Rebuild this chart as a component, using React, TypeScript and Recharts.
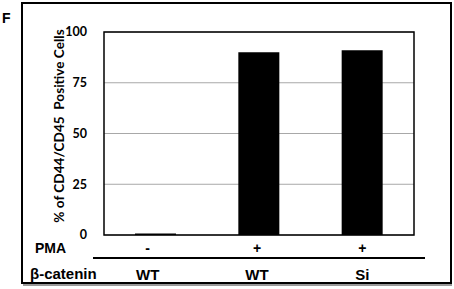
import { Bar, BarChart, CartesianGrid, XAxis, YAxis } from 'recharts';

const groups = ['g1', 'g2', 'g3'];
const pmaLabels = ['-', '+', '+'];
const cateninLabels = ['WT', 'WT', 'Si'];
const positiveCells = [0.7, 90, 91];
const yTicks = [0, 25, 50, 75, 100];

const W = 454;
const H = 289;
const PLOT = { left: 104, top: 32, right: 414, bottom: 235 };

const data = groups.map((g, i) => ({
  name: g,
  pma: pmaLabels[i],
  catenin: cateninLabels[i],
  value: positiveCells[i],
}));

const rowFont = "'Liberation Sans', Arial, sans-serif";

function GroupTick(props: any) {
  const { x, y, payload } = props;
  const i = payload.index;
  const nudge = [-8, -2, 0];
  return (
    <g>
      <text x={x + nudge[i]} y={y + 13} textAnchor="middle" dominantBaseline="central"
        fontFamily={rowFont} fontWeight="bold" fontSize={14} fill="#000">
        {pmaLabels[i]}
      </text>
      <text x={x + nudge[i]} y={y + 39} textAnchor="middle" dominantBaseline="central"
        fontFamily={rowFont} fontWeight="bold" fontSize={15} fill="#000">
        {cateninLabels[i]}
      </text>
    </g>
  );
}

export default function App() {
  return (
    <div style={{ position: 'relative', width: W, height: H, background: '#fff' }}>
      <style>{'body{margin:0}'}</style>
      <BarChart
        width={W}
        height={H}
        data={data}
        margin={{ top: PLOT.top, right: W - PLOT.right, bottom: 0, left: 0 }}
        barCategoryGap="30%"
      >
        <CartesianGrid vertical={false} stroke="#a8a8a8" strokeWidth={1} />
        <YAxis
          width={PLOT.left}
          domain={[0, 100]}
          ticks={yTicks}
          interval={0}
          axisLine={false}
          tickLine={false}
          tickMargin={11}
          tick={{ fontSize: 12.5, fontWeight: 'bold', fill: '#000', fontFamily: 'Lato, sans-serif' }}
        />
        <XAxis
          dataKey="name"
          height={H - PLOT.bottom}
          axisLine={false}
          tickLine={false}
          tickSize={0}
          tickMargin={0}
          interval={0}
          tick={<GroupTick />}
        />
        <Bar dataKey="value" fill="#000" isAnimationActive={false} />
      </BarChart>
      <svg width={W} height={H} style={{ position: 'absolute', left: 0, top: 0, pointerEvents: 'none' }}>
        <rect x={22} y={3} width={429} height={280} fill="none" stroke="#000" strokeWidth={2} />
        <line x1={23} y1={285} x2={452} y2={285} stroke="#999" strokeWidth={2} />
        <text x={2} y={23} fontFamily={rowFont} fontWeight="bold" fontSize={14} fill="#000">F</text>
        <rect x={PLOT.left} y={PLOT.top} width={PLOT.right - PLOT.left} height={PLOT.bottom - PLOT.top}
          fill="none" stroke="#000" strokeWidth={1.5} />
        <text transform="translate(59,126) rotate(-90)" textAnchor="middle" dominantBaseline="central"
          fontFamily="Lato, sans-serif" fontWeight="bold" fontSize={13.6} fill="#000" style={{ whiteSpace: 'pre' }}>
          % of CD44/CD45  Positive Cells
        </text>
        <text x={35} y={248} dominantBaseline="central" fontFamily={rowFont} fontWeight="bold" fontSize={14} fill="#000">PMA</text>
        <line x1={93} y1={258} x2={425} y2={258} stroke="#000" strokeWidth={2} />
        <text x={30} y={273} dominantBaseline="central" fontFamily={rowFont} fontWeight="bold" fontSize={15} fill="#000">β-catenin</text>
      </svg>
    </div>
  );
}
